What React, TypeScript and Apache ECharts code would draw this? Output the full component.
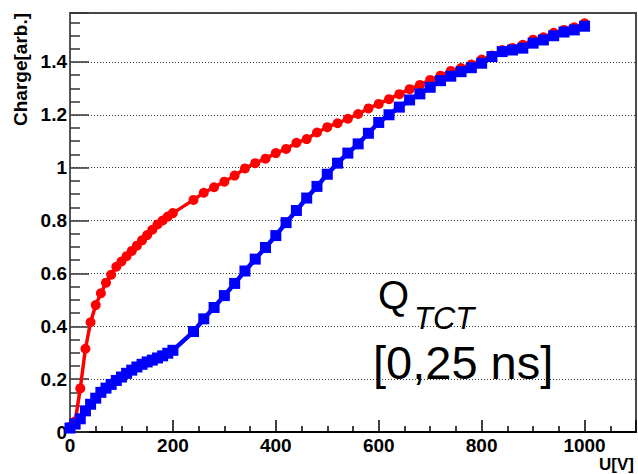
import React, { useEffect, useRef } from "react";
import * as echarts from "echarts";

const redVoltages = [0, 10, 20, 30, 40, 50, 60, 70, 80, 90, 100, 110, 120, 130, 140, 150, 160, 170, 180, 190, 200,
  240, 260, 280, 300, 320, 340, 360, 380, 400, 420, 440, 460, 480, 500, 520, 540, 560, 580, 600, 620, 640, 660, 680,
  700, 720, 740, 760, 780, 800, 820, 840, 860, 880, 900, 920, 940, 960, 980, 1000];
const redCharge = [0.02, 0.04, 0.165, 0.315, 0.415, 0.48, 0.525, 0.565, 0.595, 0.625, 0.645, 0.665, 0.685, 0.705,
  0.725, 0.745, 0.765, 0.785, 0.8, 0.815, 0.828,
  0.878, 0.905, 0.926, 0.947, 0.97, 0.997, 1.017, 1.034, 1.055, 1.071, 1.094, 1.108, 1.133, 1.153, 1.168, 1.185,
  1.203, 1.224, 1.241, 1.259, 1.278, 1.297, 1.313, 1.332, 1.348, 1.366, 1.377, 1.39, 1.409, 1.424, 1.445, 1.453,
  1.465, 1.484, 1.493, 1.51, 1.521, 1.531, 1.546];

const blueVoltages = redVoltages;
const blueCharge = [0.015, 0.03, 0.05, 0.08, 0.105, 0.128, 0.15, 0.166, 0.18, 0.195, 0.208, 0.222, 0.234, 0.246,
  0.256, 0.265, 0.272, 0.28, 0.288, 0.298, 0.309,
  0.38, 0.428, 0.471, 0.516, 0.562, 0.609, 0.654, 0.698, 0.743, 0.792, 0.838, 0.885, 0.929, 0.975, 1.017, 1.055,
  1.09, 1.13, 1.171, 1.2, 1.229, 1.256, 1.279, 1.304, 1.329, 1.346, 1.363, 1.378, 1.395, 1.42, 1.439, 1.445,
  1.452, 1.471, 1.483, 1.499, 1.513, 1.521, 1.535];

const xTitle = "U[V]";
const yTitle = "Charge[arb.]";
const noteMain = "Q";
const noteSub = "TCT";
const noteRange = "[0,25 ns]";

const FONT = '"Liberation Sans", Arial, Helvetica, sans-serif';

export default function App() {
  const ref = useRef<HTMLDivElement>(null);
  useEffect(() => {
    document.body.style.margin = "0";
    if (!ref.current) return;
    const chart = echarts.init(ref.current, undefined, { renderer: "svg" });
    const red = redVoltages.map((v, i) => [v, redCharge[i]]);
    const blue = blueVoltages.map((v, i) => [v, blueCharge[i]]);
    chart.setOption({
      animation: false,
      backgroundColor: "#ffffff",
      grid: {
        left: 70, right: 2, top: 13, bottom: 42,
        show: true, borderColor: "#4a4a4a", borderWidth: 2, backgroundColor: "transparent",
      },
      xAxis: {
        type: "value", min: 0, max: 1100, interval: 200,
        axisLine: { show: true, onZero: false, lineStyle: { color: "#000", width: 2 } },
        axisTick: { show: true, inside: true, length: 12, lineStyle: { color: "#000", width: 1.5 } },
        minorTick: { show: true, splitNumber: 4, length: 6, lineStyle: { color: "#000", width: 1.5 } },
        axisLabel: {
          showMaxLabel: false, margin: 4, color: "#000",
          fontFamily: FONT, fontWeight: "bold", fontSize: 19,
          formatter: (v: number) => String(v),
        },
        splitLine: { show: false },
      },
      yAxis: {
        type: "value", min: 0, max: 1.585, interval: 0.2,
        axisLine: { show: true, onZero: false, lineStyle: { color: "#555", width: 2 } },
        axisTick: { show: true, inside: true, length: 19, lineStyle: { color: "#333", width: 1.5 } },
        minorTick: { show: true, splitNumber: 4, length: 10, lineStyle: { color: "#333", width: 1.5 } },
        axisLabel: {
          showMaxLabel: false, margin: 3, color: "#000",
          fontFamily: FONT, fontWeight: "bold", fontSize: 19,
          formatter: (v: number) => String(Math.round(v * 10) / 10),
        },
        splitLine: { show: true, lineStyle: { color: "#333", width: 1, type: [1, 2] } },
      },
      series: [
        {
          type: "line", data: red, symbol: "circle", symbolSize: 10,
          itemStyle: { color: "#ff0000" }, lineStyle: { color: "#ff0000", width: 3.5 },
          z: 3,
        },
        {
          type: "line", data: blue, symbol: "rect", symbolSize: 11,
          itemStyle: { color: "#0000ff" }, lineStyle: { color: "#0000ff", width: 4.5 },
          z: 4,
        },
      ],
      graphic: [
        {
          type: "text", x: 20, y: 13, rotation: Math.PI / 2,
          style: { text: yTitle, align: "right", verticalAlign: "middle", fill: "#000",
            font: `bold 19px ${FONT}` },
        },
        {
          type: "text", x: 634, y: 456,
          style: { text: xTitle, align: "right", verticalAlign: "top", fill: "#000",
            font: `bold 17px ${FONT}` },
        },
        {
          type: "text", x: 378, y: 295, z: 10,
          style: { text: noteMain, align: "left", verticalAlign: "middle", fill: "#000",
            font: `40px ${FONT}` },
        },
        {
          type: "text", x: 414, y: 318, z: 10,
          style: { text: noteSub, align: "left", verticalAlign: "middle", fill: "#000",
            font: `italic 31px ${FONT}` },
        },
        {
          type: "text", x: 373, y: 362, z: 10,
          style: { text: noteRange, align: "left", verticalAlign: "middle", fill: "#000",
            font: `47px ${FONT}` },
        },
      ],
    });
    return () => chart.dispose();
  }, []);
  return <div ref={ref} style={{ width: 638, height: 474 }} />;
}
